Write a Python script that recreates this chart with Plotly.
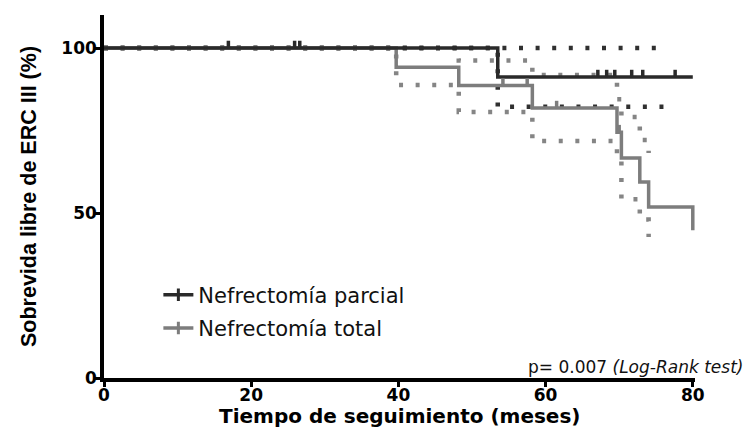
import plotly.graph_objects as go

# ---------------- data ----------------
# Nefrectomía parcial
parcial_t = [0, 53.5, 80]
parcial_s = [100, 91.2, 91.2]
parcial_cens_t = [16.9, 25.9, 26.6, 67.1, 68.3, 69.4, 71.7, 73.2, 77.6]
parcial_cens_s = [100, 100, 100, 91.2, 91.2, 91.2, 91.2, 91.2, 91.2]
parcial_ci_t = [0, 53.5, 76.5]
parcial_ci_up = [100, 100, 100]
parcial_ci_lo = [100, 82.2, 82.2]

# Nefrectomía total
total_t = [0, 39.7, 48.2, 58.2, 69.7, 70.3, 72.8, 74.0, 80]
total_s = [100, 94.2, 88.6, 81.8, 74.5, 66.7, 59.4, 51.8, 44.8]
total_cens_t = [54.2, 57.5, 61.5, 70.0]
total_cens_s = [88.6, 88.6, 81.8, 74.5]
total_ci_up_t = [0, 48.2, 58.2, 69.7, 70.3, 72.8, 74.0]
total_ci_up = [100, 96.2, 91.8, 84.5, 79.1, 72.1, 68.2]
total_ci_lo_t = [0, 39.7, 48.2, 58.2, 69.7, 70.3, 72.8, 74.0]
total_ci_lo = [100, 88.8, 80.6, 71.8, 66.0, 54.2, 48.0, 42.7]

x_ticks = [0, 20, 40, 60, 80]
y_ticks = [0, 50, 100]

DARK = "#2a2a2a"
GREY = "#7d7d7d"
DOTS = "4px,12.6px"

fig = go.Figure()

# confidence bands (dotted)
for tt, yy, col in [
    (total_ci_up_t, total_ci_up, "#858585"),
    (total_ci_lo_t, total_ci_lo, "#858585"),
    (parcial_ci_t, parcial_ci_up, "#303030"),
    (parcial_ci_t, parcial_ci_lo, "#303030"),
]:
    fig.add_trace(go.Scatter(x=tt, y=yy, mode="lines", line_shape="hv",
                             line=dict(color=col, width=4.5, dash=DOTS),
                             showlegend=False, hoverinfo="skip"))

# survival curves
fig.add_trace(go.Scatter(x=total_t, y=total_s, mode="lines", line_shape="hv",
                         line=dict(color=GREY, width=3.5), showlegend=False))
fig.add_trace(go.Scatter(x=parcial_t, y=parcial_s, mode="lines", line_shape="hv",
                         line=dict(color=DARK, width=3.5), showlegend=False))

# censor ticks (upward)
for tt, yy, col in [(total_cens_t, total_cens_s, GREY), (parcial_cens_t, parcial_cens_s, DARK)]:
    fig.add_trace(go.Scatter(
        x=tt, y=yy, mode="markers", marker=dict(size=1, color=col),
        error_y=dict(type="data", symmetric=False, array=[2.2] * len(tt),
                     arrayminus=[0] * len(tt), thickness=3.5, width=0, color=col),
        showlegend=False, hoverinfo="skip"))

# legend entries
for name, col, grp in [("Nefrectomía parcial", DARK, "a"), ("Nefrectomía total", GREY, "b")]:
    fig.add_trace(go.Scatter(x=[None], y=[None], mode="lines+markers", name=name,
                             legendgroup=grp,
                             line=dict(color=col, width=3.5),
                             marker=dict(symbol="line-ns", size=9,
                                         line=dict(color=col, width=3))))

fig.add_annotation(x=57.4, y=3.4, xref="x", yref="y", xanchor="left", yanchor="middle",
                   text="p= 0.007 <i>(Log-Rank test)</i>", showarrow=False,
                   font=dict(family="DejaVu Sans", size=17, color="#111"))

# x-axis title as annotation (to control its distance from the axis)
fig.add_annotation(x=0.5, y=-0.106, xref="paper", yref="paper", xanchor="center",
                   yanchor="middle", showarrow=False,
                   text="<b>Tiempo de seguimiento (meses)</b>",
                   font=dict(family="DejaVu Sans", size=20, color="black"))

# page body has an 8px margin, so the figure is 8px smaller and shifted
fig.update_layout(
    width=747, height=432,
    margin=dict(l=96, r=60, t=7, b=62, autoexpand=False),
    paper_bgcolor="white", plot_bgcolor="white",
    font=dict(family="DejaVu Sans", color="black"),
    showlegend=True,
    legend=dict(x=0.092, y=0.285, xanchor="left", yanchor="top",
                font=dict(family="DejaVu Sans", size=21, color="#111"),
                bgcolor="rgba(0,0,0,0)", traceorder="grouped", tracegroupgap=3,
                itemwidth=30),
    xaxis=dict(range=[0, 80.3], tickvals=x_ticks, ticktext=[str(v) for v in x_ticks],
               automargin=False,
               showline=True, linecolor="black", linewidth=3.5,
               ticks="outside", ticklen=5, tickwidth=3, tickcolor="black",
               ticklabelstandoff=-6,
               showgrid=False, zeroline=False,
               tickfont=dict(family="DejaVu Sans", size=17, weight="bold")),
    yaxis=dict(range=[0, 110], tickvals=y_ticks, ticktext=[str(v) for v in y_ticks],
               automargin=False,
               showline=True, linecolor="black", linewidth=3.5,
               ticks="outside", ticklen=5, tickwidth=3, tickcolor="black",
               ticklabelstandoff=-5,
               showgrid=False, zeroline=False,
               tickfont=dict(family="DejaVu Sans", size=17, weight="bold"),
               title=dict(text="<b>Sobrevida libre de ERC III (%)</b>", standoff=20,
                          font=dict(family="Liberation Sans", size=21.5))),
)

fig.write_html("out.html")
